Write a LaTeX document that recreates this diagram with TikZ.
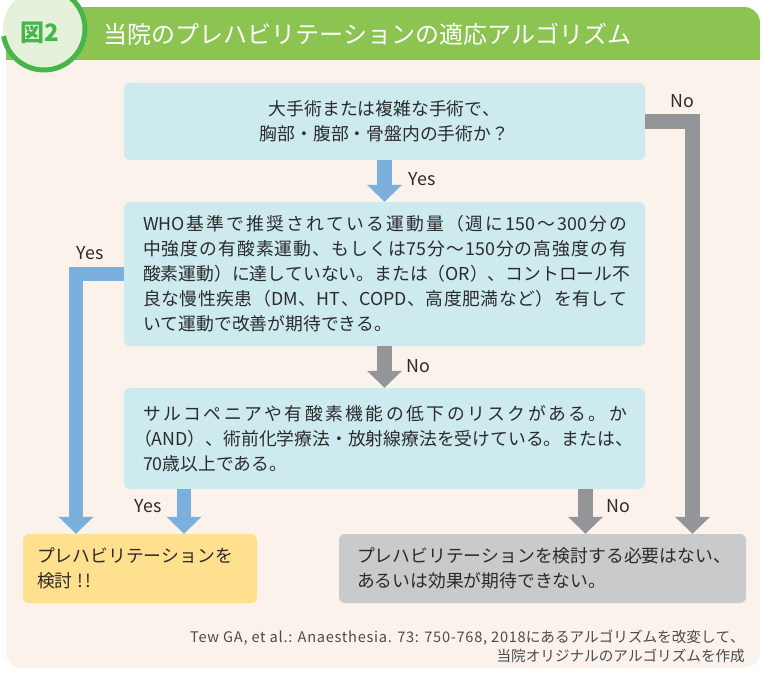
\documentclass[tikz,border=0pt]{standalone}
\usepackage{fontspec}
\setmainfont{Noto Sans CJK JP}
\usetikzlibrary{arrows.meta}
\definecolor{cream}{HTML}{FBF2EC}
\definecolor{band}{HTML}{8CC451}
\definecolor{circfill}{HTML}{E5F1DA}
\definecolor{ring}{HTML}{46B64A}
\definecolor{qblue}{HTML}{CDEAEF}
\definecolor{yel}{HTML}{FFE08F}
\definecolor{gbox}{HTML}{C9CACC}
\definecolor{arrblue}{HTML}{7BAFDE}
\definecolor{arrgray}{HTML}{939598}
\definecolor{ink}{HTML}{2B2B2B}
\newcommand{\jg}{\hskip 0pt plus 1pt\relax}
\newXeTeXintercharclass\jcl
\newcount\jcc
\def\jsetrange#1#2{\jcc=#1\relax\loop\XeTeXcharclass\jcc=\jcl\relax\ifnum\jcc<#2\relax\advance\jcc by 1\relax\repeat}
\jsetrange{"3000}{"30FF}
\jsetrange{"4E00}{"9FFF}
\jsetrange{"FF00}{"FFEF}
\XeTeXinterchartokenstate=1
\XeTeXinterchartoks \jcl \jcl = {\jg}
\XeTeXinterchartoks 0 \jcl = {\jg}
\XeTeXinterchartoks \jcl 0 = {\jg}
\newcommand{\jline}[1]{\makebox[484pt][s]{#1}}
\begin{document}
\begin{tikzpicture}[x=1pt,y=-1pt,
  box/.style={rounded corners=6pt, inner sep=0pt},
  qbox/.style={box, fill=qblue, minimum width=521pt},
  txt/.style={font=\fontsize{17.8}{25}\selectfont, text=ink, inner sep=0pt},
  lbl/.style={font=\fontsize{17.8}{20}\selectfont, text=ink, inner sep=0pt},
  barrow/.style={draw=arrblue, line width=14.5pt, -{Triangle[width=34pt,length=17pt]}},
  garrow/.style={draw=arrgray, line width=14.5pt, -{Triangle[width=34pt,length=17pt]}}
]
\useasboundingbox (0,0) rectangle (763,674);
\begin{scope}
\clip (0,0) rectangle (763,674);
% frame
\path[fill=cream, rounded corners=16pt] (6,7) rectangle (760,668);
\begin{scope}
\clip[rounded corners=16pt] (6,7) rectangle (760,668);
\fill[band] (6,7) rectangle (760,60);
\end{scope}
% badge circle
\coordinate (bc) at (44,29);
\fill[circfill] (bc) circle (41);
\draw[ring, line width=5pt] ([shift={(-80:41)}]bc) arc[start angle=-80, end angle=170, radius=41];
\end{scope}
\node[font=\fontsize{24}{26}\selectfont\bfseries, text=ring, inner sep=0pt] (fig) at (40,33) {図2};
\node[font=\fontsize{24}{26}\selectfont, text=white, inner sep=0pt, anchor=west] (title) at (103,34) {当院のプレハビリテーションの適応アルゴリズム};

% boxes
\node[qbox, minimum height=77pt] (q1) at (384.5,121.5) {};
\node[qbox, minimum height=144pt] (q2) at (384.5,274) {};
\node[qbox, minimum height=101pt] (q3) at (384.5,438.5) {};
\node[box, fill=yel, minimum width=234pt, minimum height=69pt] (yes) at (140,568.5) {};
\node[box, fill=gbox, minimum width=407pt, minimum height=69pt] (no) at (542.5,568.5) {};

% texts
\node[txt, align=center] (q1t) at (q1) {大手術または複雑な手術で、\\胸部・腹部・骨盤内の手術か？};
\node[txt, anchor=west, align=left] (q2t) at ([xshift=19pt]q2.west) {\jline{WHO基準で推奨されている運動量（週に150～300分の}\\\jline{中強度の有酸素運動、もしくは75分～150分の高強度の有}\\\jline{酸素運動）に達していない。または（OR）、コントロール不}\\\jline{良な慢性疾患（DM、HT、COPD、高度肥満など）を有して}\\いて運動で改善が期待できる。};
\node[txt, anchor=west, align=left] (q3t) at ([xshift=19pt]q3.west) {\jline{サルコペニアや有酸素機能の低下のリスクがある。か}\\\hspace*{-0.5em}\makebox[484pt][s]{（AND）、術前化学療法・放射線療法を受けている。または、}\\70歳以上である。};
\node[txt, anchor=west, align=left] (yt) at ([xshift=14pt]yes.west) {プレハビリテーションを\\検討\hspace{0.25em}!\hspace{0.15em}!};
\node[txt, anchor=west, align=left] (nt) at ([xshift=18pt]no.west) {プレハビリテーションを検討する必要はない、\\あるいは効果が期待できない。};

% connectors
\coordinate (ycol) at (76,0);
\coordinate (ncol) at (692.5,0);
\coordinate (y2col) at (184,0);
\coordinate (n2col) at (585.5,0);
\draw[barrow] (q1.south) -- (q2.north);
\draw[garrow] (q2.south) -- (q3.north);
\draw[barrow] (q2.west) -| (ycol |- yes.north);
\draw[garrow] (q1.east) -| (ncol |- no.north);
\draw[barrow] (q3.south -| y2col) -- (y2col |- yes.north);
\draw[garrow] (q3.south -| n2col) -- (n2col |- no.north);

% labels
\node[lbl] (l1) at (422,179) {Yes};
\node[lbl] (l2) at (418,366) {No};
\node[lbl] (l3) at (90,253) {Yes};
\node[lbl] (l4) at (682,101) {No};
\node[lbl] (l5) at (148,506) {Yes};
\node[lbl] (l6) at (618,506) {No};

% citation
\node[font=\fontsize{14.6}{19}\selectfont, text=ink!85, inner sep=0pt, align=right, anchor=east] (cite) at (745,646.5) {{\addfontfeatures{LetterSpace=5}Tew GA, et al.: Anaesthesia. 73: 750-768, 2018}にあるアルゴリズムを改変して、\\当院オリジナルのアルゴリズムを作成};
\end{tikzpicture}
\end{document}
